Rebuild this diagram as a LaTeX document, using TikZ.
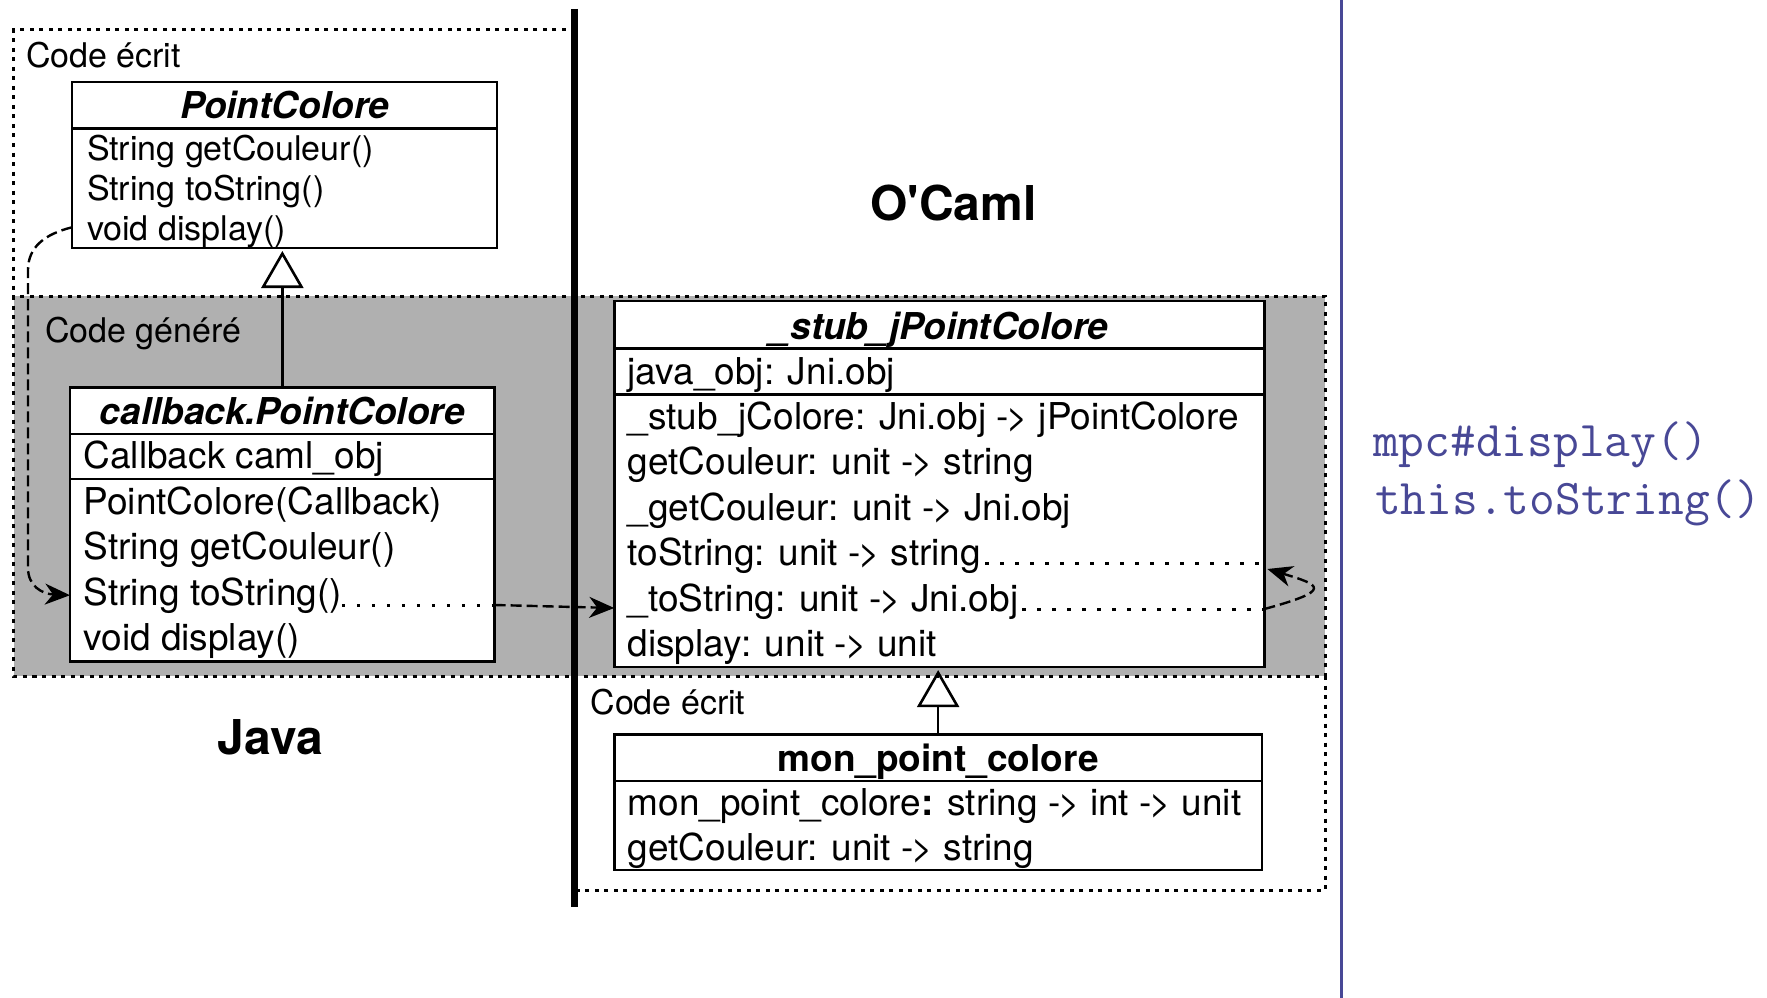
\documentclass[tikz,border=0pt]{standalone}
\usepackage{fontspec}
\setmainfont{TeX Gyre Heros}
\newfontfamily\herosplain{TeX Gyre Heros}
\usetikzlibrary{arrows.meta,calc}
\definecolor{gengrey}{RGB}{176,176,176}
\definecolor{codeblue}{RGB}{72,72,150}
\newcommand\fBody{\fontsize{37}{44}\selectfont}
\newcommand\fSmall{\fontsize{34}{40}\selectfont}
\newcommand\fTitle{\fontsize{37}{44}\selectfont\bfseries\itshape}
\newcommand\fName{\fontsize{37}{44}\selectfont\bfseries}
\newcommand\fBig{\fontsize{48}{56}\selectfont\bfseries}
\newcommand\fMono{\fontsize{50}{58}\selectfont\ttfamily}
\newcommand\tto{-\kern-2pt>}
\begin{document}
\begin{tikzpicture}[x=1pt,y=-1pt,
  umlbox/.style={draw, line width=2.6pt, fill=white, rectangle, inner sep=0pt, outer sep=0pt},
  sepline/.style={line width=2.6pt},
  txt/.style={inner sep=0pt, outer sep=0pt, anchor=base west},
  ttl/.style={inner sep=0pt, outer sep=0pt, anchor=base},
  zone/.style={line width=3pt, dash pattern=on 4pt off 5.5pt},
  dotline/.style={line width=3pt, dash pattern=on 3.5pt off 11.5pt},
  dashline/.style={line width=2.4pt, dash pattern=on 11pt off 5pt},
  calltip/.style={-{Stealth[length=25pt,width=21pt,inset=8pt]}},
  inherit/.style={line width=2.6pt, -{Triangle[open,length=37pt,width=42pt,line width=2.6pt]}, shorten >=3pt},
]
\useasboundingbox (0,0) rectangle (1767,998);

% generated-code zone
\fill[gengrey] (13.5,296) rectangle (1325,676);
\draw[zone] (13.5,296) rectangle (1325,676);
% Java hand-written zone
\draw[zone] (575,30) -- (13.5,30) -- (13.5,296);
% OCaml hand-written zone
\draw[zone] (1325,676) -- (1325,890) -- (575,890);

% Java / OCaml divider
\draw[line width=7pt] (574.7,9) -- (574.7,907);
% right margin rule
\draw[codeblue, line width=3pt] (1341,0) -- (1341,998);

% zone labels
\node[txt, font=\fSmall] (lw1) at (26,68) {Code écrit};
\node[txt, font=\fSmall] (lg) at (45,342) {Code généré};
\node[txt, font=\fSmall] (lw2) at (590.5,714) {Code écrit};
\node[ttl, font=\herosplain\fBig] (ocaml) at (953.4,220) {O'Caml};
\node[ttl, font=\fBig] (java) at (270.5,754) {Java};

% class PointColore
\node[umlbox, minimum width=425pt, minimum height=166pt] (pc) at (284.5,165) {};
\path (0,128.5) coordinate (pcS1);
\draw[sepline] (pc.west |- pcS1) -- (pc.east |- pcS1);
\node[ttl, font=\fTitle] (pc-t) at (284.5,118) {PointColore};
\node[txt, font=\fSmall] (pc-m1) at (87,160.5) {String getCouleur()};
\node[txt, font=\fSmall] (pc-m2) at (87,200) {String toString()};
\node[txt, font=\fSmall] (pc-m3) at (87,240) {void display()};

% class callback.PointColore
\node[umlbox, minimum width=424.7pt, minimum height=273.8pt] (cb) at (282.35,524.6) {};
\path (0,433.9) coordinate (cbS1) (0,479) coordinate (cbS2);
\draw[sepline] (cb.west |- cbS1) -- (cb.east |- cbS1);
\draw[sepline] (cb.west |- cbS2) -- (cb.east |- cbS2);
\node[ttl, font=\fTitle] (cb-t) at (282.35,424) {callback.PointColore};
\node[txt, font=\fBody] (cb-f1) at (83.5,468) {Callback caml\_obj};
\node[txt, font=\fBody] (cb-m1) at (83.5,514) {PointColore(Callback)};
\node[txt, font=\fBody] (cb-m2) at (83.5,559.5) {String getCouleur()};
\node[txt, font=\fBody] (cb-m3) at (83.5,605) {String toString()};
\node[txt, font=\fBody] (cb-m4) at (83.5,650.5) {void display()};

% class _stub_jPointColore
\node[umlbox, minimum width=650.2pt, minimum height=366.2pt] (st) at (939.3,484) {};
\path (0,348.2) coordinate (stS1) (0,394.4) coordinate (stS2);
\draw[sepline] (st.west |- stS1) -- (st.east |- stS1);
\draw[sepline] (st.west |- stS2) -- (st.east |- stS2);
\node[ttl, font=\fTitle] (st-t) at (939.3,339) {\_stub\_jPointColore};
\node[txt, font=\fBody] (st-f1) at (627.7,384) {java\_obj: Jni.obj};
\node[txt, font=\fBody] (st-m1) at (627.7,429) {\_stub\_jColore: Jni.obj \tto{} jPointColore};
\node[txt, font=\fBody] (st-m2) at (627.7,474.5) {getCouleur: unit \tto{} string};
\node[txt, font=\fBody] (st-m3) at (627.7,520) {\_getCouleur: unit \tto{} Jni.obj};
\node[txt, font=\fBody] (st-m4) at (627.7,565.5) {toString: unit \tto{} string};
\node[txt, font=\fBody] (st-m5) at (627.7,611) {\_toString: unit \tto{} Jni.obj};
\node[txt, font=\fBody] (st-m6) at (627.7,656.5) {display: unit \tto{} unit};

% class mon_point_colore
\node[umlbox, minimum width=647.9pt, minimum height=135.3pt] (mon) at (938.15,802.35) {};
\path (0,781) coordinate (monS1);
\draw[sepline] (mon.west |- monS1) -- (mon.east |- monS1);
\node[ttl, font=\fName] (mon-t) at (938.15,771) {mon\_point\_colore};
\node[txt, font=\fBody] (mon-m1) at (627.7,815.5) {mon\_point\_colore\textbf{:} string \tto{} int \tto{} unit};
\node[txt, font=\fBody] (mon-m2) at (627.7,860.5) {getCouleur: unit \tto{} string};

% inheritance
\draw[inherit] (cb.north) -- (cb.north |- pc.south);
\draw[inherit] (mon.north) -- (mon.north |- st.south);

% display() calls back toString()
\coordinate (dispA) at ($(pc.west |- pc-m3.west)+(0,-4)$);
\coordinate (tsB) at (cb.west |- cb-m3.west);
\draw[dashline, calltip] (dispA) .. controls (45,234) and (28,247) .. (28,270)
  -- (28,568) .. controls (28,586) and (42,594) .. (tsB);

% Java toString() delegates to the OCaml stub
\coordinate (cbTs) at (cb-m3.base east);
\draw[dotline] (cbTs) -- (cbTs -| cb.east);
\draw[dashline, calltip] (cbTs -| cb.east) -- ($(cbTs -| st.west)+(0,3)$);

% stub methods
\coordinate (stTs) at ($(st-m4.base east)+(4,-2)$);
\coordinate (stUts) at ($(st-m5.base east)+(4,-2)$);
\draw[dotline] (stTs) -- (stTs -| st.east);
\draw[dotline] (stUts) -- (stUts -| st.east);
\coordinate (loopA) at (stUts -| st.east);
\coordinate (loopB) at ($(stTs -| st.east)+(3,5.5)$);
\draw[dashline, calltip] (loopA) .. controls ($(loopA)+(70,-19)$) and ($(loopB)+(53,16)$) .. (loopB);

% console trace
\node[txt, font=\fMono, text=codeblue] (tr1) at (1373,456) {mpc\#display()};
\node[txt, font=\fMono, text=codeblue] (tr2) at (1375,514) {this.toString()};
\end{tikzpicture}
\end{document}
